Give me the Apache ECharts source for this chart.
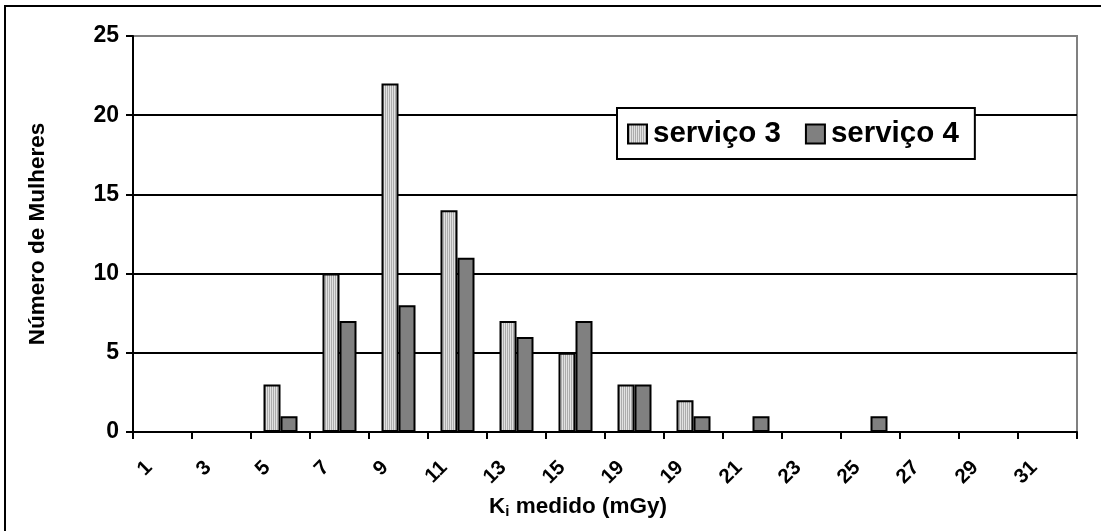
<!DOCTYPE html>
<html>
<head>
<meta charset="utf-8">
<script src="https://cdn.jsdelivr.net/npm/echarts@6/dist/echarts.min.js"></script>
<style>
  html, body { margin: 0; padding: 0; background: #fff; }
  #chart { width: 1101px; height: 531px; }
</style>
</head>
<body>
<div id="chart"></div>
<script>
// Dose classes (mGy) as labelled on the horizontal axis
const categories = ['1', '3', '5', '7', '9', '11', '13', '15', '19', '19', '21', '23', '25', '27', '29', '31'];
// Number of women per dose class
const servico3 = [0, 0, 3, 10, 22, 14, 7, 5, 3, 2, 0, 0, 0, 0, 0, 0];
const servico4 = [0, 0, 1, 7, 8, 11, 6, 7, 3, 1, 1, 0, 1, 0, 0, 0];
const seriesNames = ['serviço 3', 'serviço 4'];
const yTicks = [0, 5, 10, 15, 20, 25];

const FONT = '"Liberation Sans", Arial, sans-serif';

// Fine vertical hatching for the light series
function stripePattern() {
  const c = document.createElement('canvas');
  c.width = 2; c.height = 4;
  const g = c.getContext('2d');
  g.fillStyle = '#e2e2e2'; g.fillRect(0, 0, 1, 4);
  g.fillStyle = '#acacac'; g.fillRect(1, 0, 1, 4);
  return c;
}

const chart = echarts.init(document.getElementById('chart'), null, { renderer: 'canvas' });

chart.setOption({
  backgroundColor: '#fff',
  animation: false,
  graphic: [{
    type: 'rect',
    shape: { x: 5, y: 6, width: 1110, height: 540 },
    style: { fill: 'none', stroke: '#000', lineWidth: 2 },
    z: 100
  }],
  grid: {
    left: 133, right: 24, top: 36, bottom: 99,
    show: true, borderColor: '#808080', borderWidth: 2
  },
  legend: {
    left: 617, top: 108,
    orient: 'horizontal',
    backgroundColor: '#fff',
    borderColor: '#000', borderWidth: 2, borderRadius: 0,
    padding: [11, 16, 10, 10],
    itemWidth: 19, itemHeight: 19, itemGap: 24,
    icon: 'rect',
    textStyle: { fontFamily: FONT, fontWeight: 'bold', fontSize: 29.5, color: '#000', padding: [0, 0, 0, 1] },
    data: seriesNames
  },
  xAxis: {
    type: 'category',
    data: categories,
    boundaryGap: true,
    axisLine: { show: true, lineStyle: { color: '#000', width: 2 } },
    axisTick: { show: true, length: 7, lineStyle: { color: '#000', width: 2 } },
    axisLabel: {
      interval: 0, rotate: 45, margin: 19,
      fontFamily: FONT, fontWeight: 'bold', fontSize: 20.5, color: '#000',
      padding: [0, 19, 0, 0]
    },
    name: '{k|K}{s|i}{k| medido (mGy)}',
    nameLocation: 'middle',
    nameGap: 54,
    nameTextStyle: {
      padding: [0, 54, 0, 0],
      rich: {
        k: { fontFamily: FONT, fontWeight: 'bold', fontSize: 22.5, color: '#000' },
        s: { fontFamily: FONT, fontWeight: 'bold', fontSize: 15, color: '#000', padding: [11, 0, 0, 0] }
      }
    }
  },
  yAxis: {
    type: 'value',
    min: 0, max: 25, interval: 5,
    axisLine: { show: true, lineStyle: { color: '#000', width: 2 } },
    axisTick: { show: true, length: 7, lineStyle: { color: '#000', width: 2 } },
    axisLabel: {
      margin: 14,
      fontFamily: FONT, fontWeight: 'bold', fontSize: 23, color: '#000',
      formatter: v => (yTicks.includes(v) ? String(v) : '')
    },
    splitLine: { show: true, showMaxLine: false, lineStyle: { color: '#000', width: 2 } },
    name: 'Número de Mulheres',
    nameLocation: 'middle',
    nameRotate: 90,
    nameGap: 84,
    nameTextStyle: { fontFamily: FONT, fontWeight: 'bold', fontSize: 22.5, color: '#000' }
  },
  series: [
    {
      name: seriesNames[0],
      type: 'bar',
      data: servico3,
      barWidth: 17,
      barGap: '0%',
      itemStyle: {
        color: { image: stripePattern(), repeat: 'repeat' },
        borderColor: '#000', borderWidth: 2
      }
    },
    {
      name: seriesNames[1],
      type: 'bar',
      data: servico4,
      barWidth: 17,
      barGap: '0%',
      itemStyle: { color: '#808080', borderColor: '#000', borderWidth: 2 }
    }
  ]
});
</script>
</body>
</html>
